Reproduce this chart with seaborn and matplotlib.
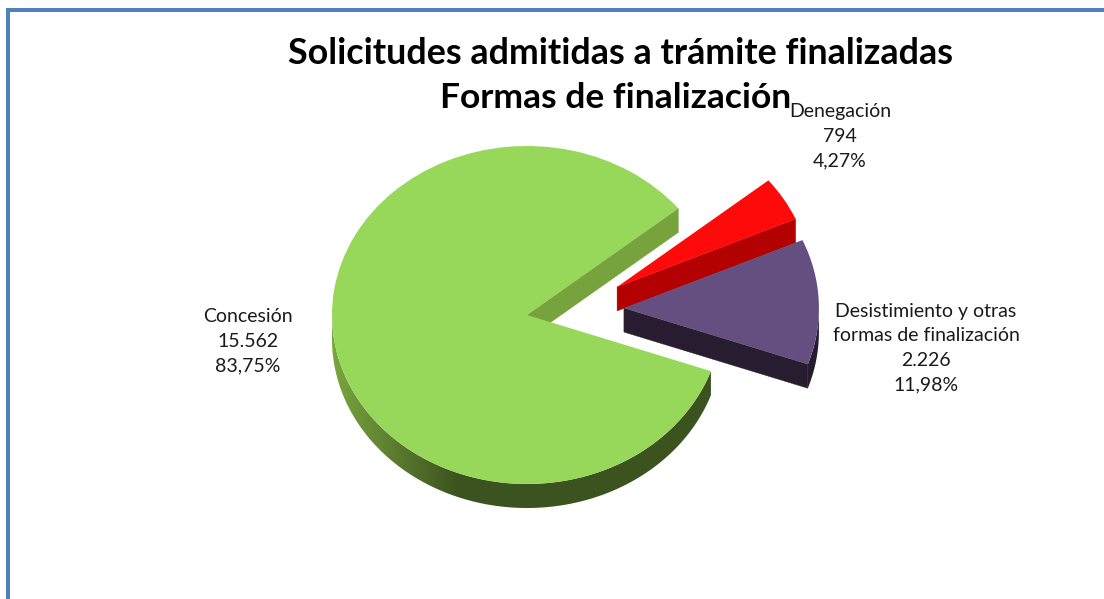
import numpy as np
import matplotlib
matplotlib.use("Agg")
import matplotlib.pyplot as plt
from matplotlib.colors import to_rgb
from matplotlib.patches import Polygon, Rectangle
import seaborn as sns

categories = ["Concesión", "Desistimiento y otras\nformas de finalización", "Denegación"]
values = [15562, 2226, 794]
value_labels = ["15.562", "2.226", "794"]
percent_labels = ["83,75%", "11,98%", "4,27%"]
title_lines = ["Solicitudes admitidas a trámite finalizadas", "Formas de finalización"]

W, H = 1104, 599
RX, RY = 195.0, 169.0
CX, CY = 527.0, 315.0
DEPTH = 24 / RY

top_colors = ["#97d75a", "#654f80", "#ff0a0a"]
face_colors = ["#76a33e", "#271c30", "#b30000"]
rim_dark = ["#3c531f", "#271c30", "#b30000"]
rim_light = ["#7aa63e", "#271c30", "#b30000"]
# displacement of each slice from the pie centre, in radius units
offsets = [(0.0, 0.0), (0.497, 0.041), (0.462, 0.166)]
label_xy = [(248, 341), (926, 348), (840, 136)]
title_xy = [(620, 54), (616, 98)]

sns.set_theme(style="white")
plt.rcParams["font.family"] = ["Lato", "DejaVu Sans"]

fig = plt.figure(figsize=(W / 100, H / 100), dpi=100, facecolor="white")
ax = fig.add_axes([0, 0, 1, 1])
wedges, _ = ax.pie(values, startangle=39.1, colors=top_colors, radius=1.0,
                   wedgeprops={"linewidth": 0})
ax.set_aspect("auto")
xlim = (-CX / RX, (W - CX) / RX)
ylim = (-(H - CY) / RY, CY / RY)
ax.axis("off")

order = [0, 2, 1]   # painter's order: red sits beneath purple
for i in order:
    w = wedges[i]
    dx, dy = offsets[i]
    t1, t2 = w.theta1, w.theta2
    z = order.index(i) * 3
    w.set_center((dx, dy))
    # radial cut face
    tx, ty = dx + np.cos(np.radians(t1)), dy + np.sin(np.radians(t1))
    ax.fill([dx, tx, tx, dx], [dy, ty, ty - DEPTH, dy - DEPTH],
            color=face_colors[i], lw=0.3, zorder=2 + z)
    # outer rim, only the lower half of the circle faces the viewer
    lo, hi = t1 % 360, t2 % 360
    if hi < lo:
        hi += 360
    a0, a1 = max(lo, 180), min(hi, 360)
    if a1 > a0:
        ang = np.radians(np.linspace(a0, a1, 300))
        x, y = dx + np.cos(ang), dy + np.sin(ang)
        strip = np.column_stack([np.r_[x, x[::-1]], np.r_[y, y[::-1] - DEPTH]])
        clip = Polygon(strip, closed=True, transform=ax.transData)
        gx = np.linspace(-1.0, 3.0, 1600)
        frac = np.clip((gx + 1.0) / (125 / RX), 0, 1)[None, :, None]
        l, d = np.array(to_rgb(rim_light[i])), np.array(to_rgb(rim_dark[i]))
        img = l + (d - l) * frac
        im = ax.imshow(img, extent=(gx[0], gx[-1], -2.0, 2.0), aspect="auto",
                       interpolation="bilinear", zorder=2.5 + z)
        im.set_clip_path(clip)
    w.set_zorder(3 + z)

ax.set_xlim(*xlim)
ax.set_ylim(*ylim)


def px(x, y):
    return (x - CX) / RX, (CY - y) / RY


for line, (x, y), size in zip(title_lines, title_xy, (25.8, 25.5)):
    ax.text(*px(x, y), line, ha="center", va="center", fontsize=size, fontweight="bold",
            color="black", zorder=20)
for name, val, pct, (x, y) in zip(categories, value_labels, percent_labels, label_xy):
    ax.text(*px(x, y), f"{name}\n{val}\n{pct}", ha="center", va="center", fontsize=14,
            color="#1a1a1a", linespacing=1.54, zorder=21)

blue = "#4f81bd"
fig.add_artist(Rectangle((6 / W, 1 - 12 / H), 1 - 6 / W, 4 / H, transform=fig.transFigure,
                         facecolor=blue, edgecolor="none"))
fig.add_artist(Rectangle((6 / W, 0), 4 / W, 1 - 8 / H, transform=fig.transFigure,
                         facecolor=blue, edgecolor="none"))

fig.savefig("out.png", dpi=100, facecolor="white")
